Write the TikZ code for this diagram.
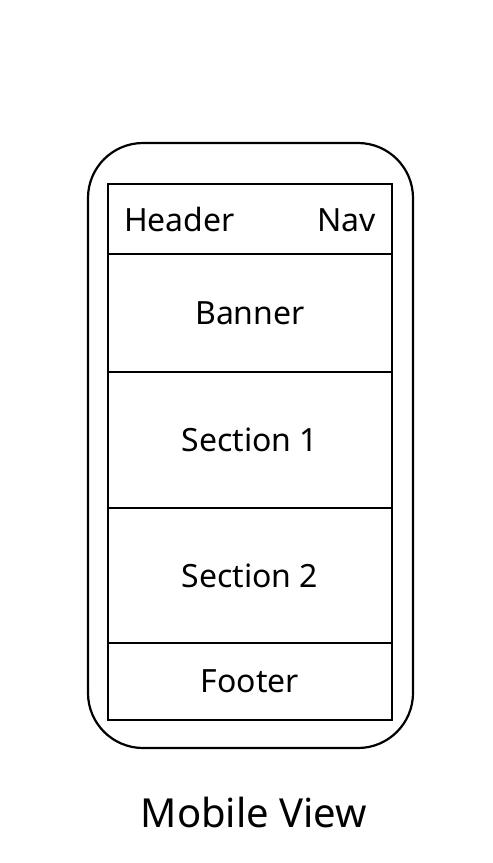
\documentclass[tikz,border=0pt]{standalone}
\usepackage{fontspec}
\setmainfont{Noto Sans}
\usetikzlibrary{positioning}

\tikzset{
  block/.style={draw,line width=2.2pt,minimum width=284pt,inner sep=0pt,outer sep=0pt,
    font=\fontsize{32}{38}\selectfont,anchor=north},
  hdrlabel/.style={font=\fontsize{32}{38}\selectfont,inner sep=0pt},
}

\begin{document}
\begin{tikzpicture}[x=1pt,y=-1pt]
\useasboundingbox (0,0) rectangle (493,863);
\draw[line width=2.2pt,rounded corners=55pt] (88,143) rectangle (413,748);

\node[block,minimum height=70pt] (header) at (250,184) {};
\node[block,minimum height=118pt,below=0pt of header] (banner) {Banner};
\node[block,minimum height=136pt,below=0pt of banner] (sec1) {Section 1};
\node[block,minimum height=135pt,below=0pt of sec1] (sec2) {Section 2};
\node[block,minimum height=77pt,below=0pt of sec2] (footer) {Footer};

\node[hdrlabel,anchor=base west] (hdrtext) at (124,231) {Header};
\node[hdrlabel,anchor=base east] (navtext) at (376,231) {Nav};

\node[font=\fontsize{40}{48}\selectfont,anchor=base] (caption) at (254,827) {Mobile View};
\end{tikzpicture}
\end{document}
